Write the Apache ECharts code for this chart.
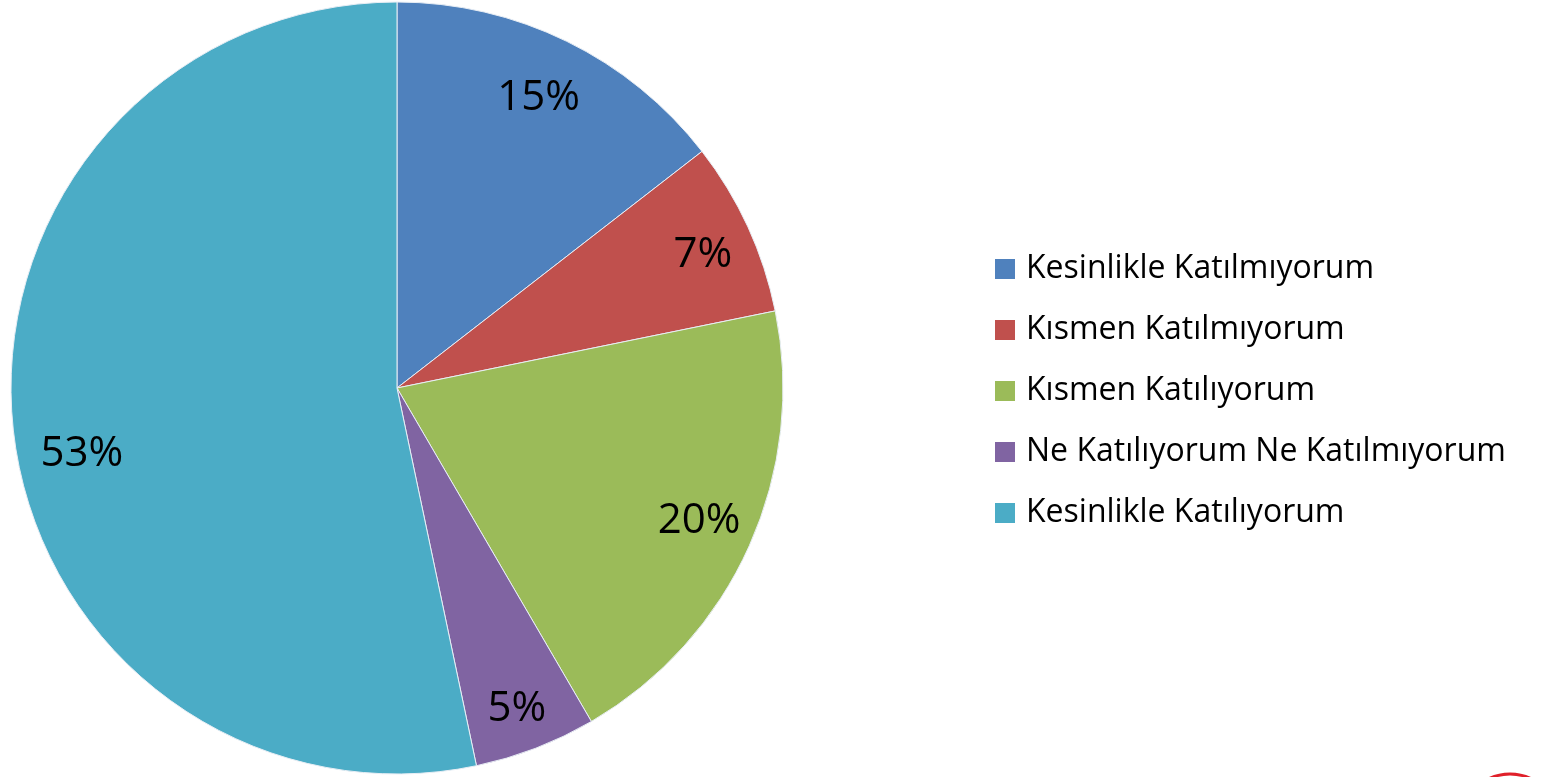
<!DOCTYPE html>
<html>
<head>
<meta charset="utf-8">
<script src="https://cdn.jsdelivr.net/npm/echarts@6/dist/echarts.min.js"></script>
<style>
html,body{margin:0;padding:0;background:#fff;}
#chart{width:1548px;height:777px;}
</style>
</head>
<body>
<div id="chart"></div>
<script>
const categories = ['Kesinlikle Katılmıyorum', 'Kısmen Katılmıyorum', 'Kısmen Katılıyorum', 'Ne Katılıyorum Ne Katılmıyorum', 'Kesinlikle Katılıyorum'];
const values = [14.5, 7.3, 19.8, 5.1, 53.3];
const colors = ['#4F81BD', '#C0504D', '#9BBB59', '#8064A2', '#4BACC6'];
// label nudges (style only)
const labelOffsets = [[-4, 7], [5, 5], [0, -2], [1, 12], [14, 32]];

const data = categories.map((c, i) => ({ name: c, value: values[i], itemStyle: { color: colors[i] } }));
const fontFamily = '"Open Sans", "Noto Sans", sans-serif';

const chart = echarts.init(document.getElementById('chart'), null, { renderer: 'canvas' });
chart.setOption({
  animation: false,
  backgroundColor: '#ffffff',
  legend: {
    orient: 'vertical',
    left: 995,
    top: 249,
    padding: 0,
    itemWidth: 20,
    itemHeight: 20,
    itemGap: 21,
    icon: 'rect',
    itemStyle: { borderWidth: 0 },
    textStyle: { fontFamily: fontFamily, fontSize: 32, color: '#000', lineHeight: 40, padding: [0, 0, 0, 6] },
    data: categories
  },
  graphic: [{
    type: 'circle',
    shape: { cx: 1510, cy: 822, r: 48 },
    style: { fill: 'none', stroke: '#e0202a', lineWidth: 3 },
    silent: true
  }],
  series: [
    {
      type: 'pie',
      center: [397, 388],
      radius: [0, 386],
      startAngle: 90,
      clockwise: true,
      silent: true,
      itemStyle: { borderColor: '#e8eef5', borderWidth: 1 },
      label: { show: false },
      labelLine: { show: false },
      data: data
    },
    {
      type: 'pie',
      center: [397, 388],
      radius: [270, 386],
      startAngle: 90,
      clockwise: true,
      silent: true,
      itemStyle: { color: 'rgba(0,0,0,0)', borderWidth: 0 },
      label: {
        show: true,
        position: 'inside',
        formatter: p => Math.round(p.value) + '%',
        fontFamily: fontFamily,
        fontSize: 42,
        color: '#000'
      },
      labelLine: { show: false },
      data: categories.map((c, i) => ({ name: c, value: values[i], label: { offset: labelOffsets[i] } }))
    }
  ]
});
</script>
</body>
</html>
